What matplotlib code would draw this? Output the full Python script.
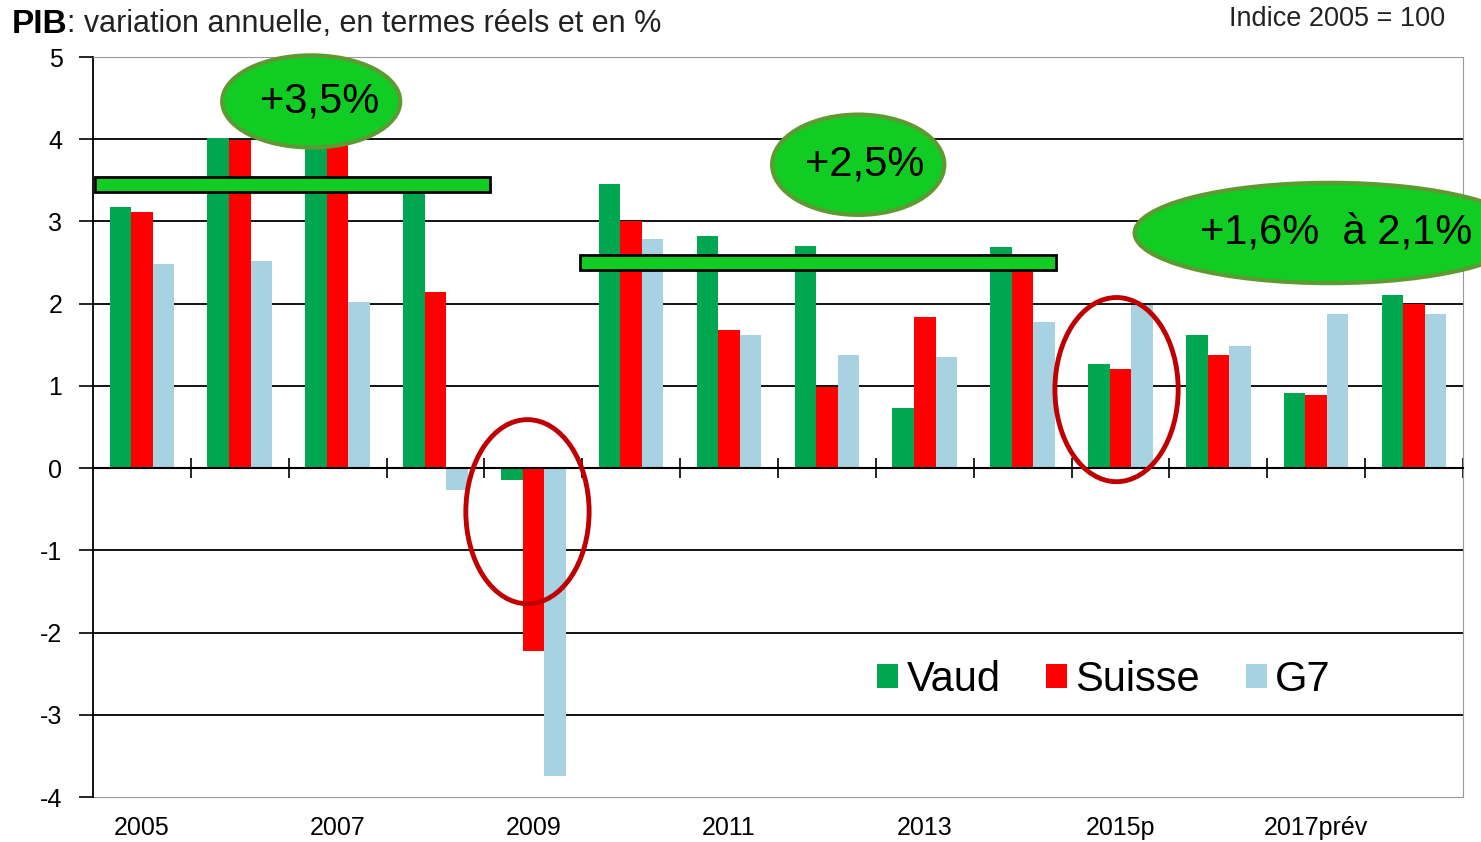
import numpy as np
import matplotlib.pyplot as plt
from matplotlib.patches import Ellipse, Rectangle

plt.rcParams['font.family'] = ['Liberation Sans', 'DejaVu Sans']
plt.rcParams['axes.unicode_minus'] = False

years = ['2005', '2006', '2007', '2008', '2009', '2010', '2011', '2012',
         '2013', '2014', '2015p', '2016', '2017prév', '2018']
vaud = [3.18, 4.02, 4.05, 3.5, -0.15, 3.45, 2.82, 2.7, 0.73, 2.69, 1.27, 1.62, 0.91, 2.1]
suisse = [3.11, 3.99, 4.05, 2.14, -2.23, 3.0, 1.68, 0.99, 1.84, 2.5, 1.2, 1.37, 0.89, 2.0]
g7 = [2.48, 2.52, 2.02, -0.27, -3.75, 2.79, 1.62, 1.37, 1.35, 1.78, 1.98, 1.48, 1.88, 1.88]
shown_labels = ['2005', '2007', '2009', '2011', '2013', '2015p', '2017prév']

fig = plt.figure(figsize=(14.81, 8.42), dpi=100)
ax = fig.add_axes([0.0628, 0.0534, 0.925, 0.8789])

x = np.arange(len(years))
w = 0.22
ax.bar(x - w, vaud, w, color='#00A650', label='Vaud', zorder=2)
ax.bar(x, suisse, w, color='#FF0000', label='Suisse', zorder=2)
ax.bar(x + w, g7, w, color='#A8D1E2', label='G7', zorder=2)

ax.set_xlim(-0.5, len(years) - 0.5)
ax.set_ylim(-4, 5)

# horizontal grid
for yv in range(-3, 5):
    ax.axhline(yv, color='black', lw=1.3, zorder=1)

# spines: bottom axis line sits on zero
ax.spines['left'].set_color('black')
ax.spines['left'].set_linewidth(1.3)
ax.spines['top'].set_color('#999999')
ax.spines['right'].set_color('#999999')
ax.spines['bottom'].set_position(('data', 0))
ax.spines['bottom'].set_color('black')
ax.spines['bottom'].set_linewidth(1.5)
ax.spines['bottom'].set_zorder(3)

ax.set_yticks(range(-4, 6))
ax.tick_params(axis='y', length=10, width=1.2, labelsize=18, pad=12)
ax.set_xticks(np.arange(0.5, len(years), 1.0))
ax.tick_params(axis='x', direction='inout', length=14, width=1.2, labelbottom=False)

# year labels along the bottom frame
sec = ax.secondary_xaxis('bottom')
sec.set_xticks([years.index(l) for l in shown_labels], shown_labels)
sec.tick_params(length=0, labelsize=18, pad=14)
sec.spines['bottom'].set_color('#999999')

# green annotations
green = '#11CC22'
ax.add_patch(Rectangle((-0.48, 3.36), 4.04, 0.18, facecolor=green, edgecolor='black', lw=2, zorder=4))
ax.add_patch(Rectangle((4.48, 2.41), 4.86, 0.18, facecolor=green, edgecolor='black', lw=2, zorder=4))
for cx, cy, ew, eh, txt, tx in [(1.73, 4.46, 1.82, 1.12, '+3,5%', 1.82),
                                (7.32, 3.69, 1.76, 1.22, '+2,5%', 7.39),
                                (12.14, 2.86, 3.99, 1.22, '+1,6%  à 2,1%', 12.2)]:
    ax.add_patch(Ellipse((cx, cy), ew, eh, facecolor=green, edgecolor='#5E9A32',
                         lw=3, zorder=5, clip_on=False))
    ax.text(tx, cy, txt, fontsize=30, ha='center', va='center', zorder=6, clip_on=False)

# red circles
for cx, cy in [(3.94, -0.53), (9.96, 0.955)]:
    ax.add_patch(Ellipse((cx, cy), 1.26, 2.24, facecolor='none', edgecolor='#C00000',
                         lw=3.5, zorder=5))

ax.legend(loc='center', bbox_to_anchor=(0.738, 0.158), ncol=3, frameon=False,
          fontsize=30, handlelength=0.5, handleheight=0.5, handletextpad=0.2,
          columnspacing=1.1)

t1 = fig.text(0.008, 0.971, 'PIB', fontsize=24, fontweight='bold', va='center', ha='left')
fig.text(0.976, 0.978, 'Indice 2005 = 100', fontsize=19.5, va='center', ha='right', color='#222222')

fig.canvas.draw()
bb = t1.get_window_extent()
fig.text(bb.x1 / fig.bbox.width, 0.971, ': variation annuelle, en termes réels et en %',
         fontsize=22, va='center', ha='left', color='#222222')

fig.savefig('out.png', dpi=100)
